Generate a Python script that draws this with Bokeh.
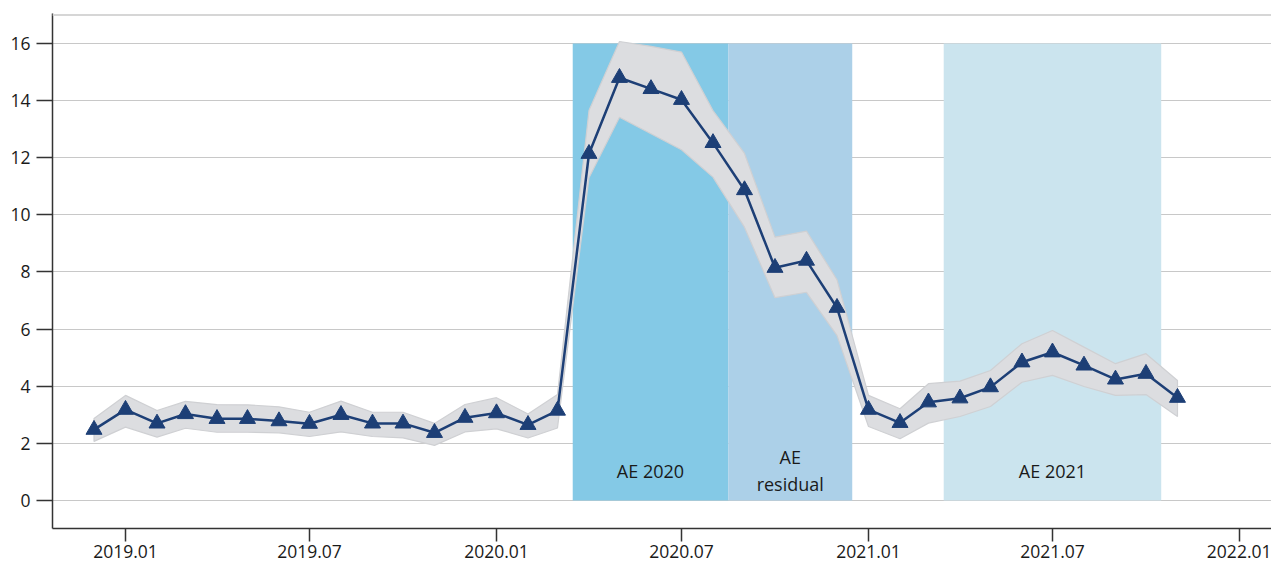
from datetime import datetime
from bokeh.plotting import figure
from bokeh.models import (Range1d, FixedTicker, DatetimeTickFormatter, Span,
                          ColumnDataSource)
from bokeh.core.properties import value
from bokeh.embed import file_html
from bokeh.resources import INLINE

# ---------------- data ----------------
months = ["2018-12",
          "2019-01", "2019-02", "2019-03", "2019-04", "2019-05", "2019-06",
          "2019-07", "2019-08", "2019-09", "2019-10", "2019-11", "2019-12",
          "2020-01", "2020-02", "2020-03", "2020-04", "2020-05", "2020-06",
          "2020-07", "2020-08", "2020-09", "2020-10", "2020-11", "2020-12",
          "2021-01", "2021-02", "2021-03", "2021-04", "2021-05", "2021-06",
          "2021-07", "2021-08", "2021-09", "2021-10", "2021-11"]

estimate = [2.48,
            3.18, 2.70, 3.03, 2.86, 2.86, 2.78,
            2.69, 3.00, 2.70, 2.70, 2.37, 2.90,
            3.06, 2.65, 3.15, 12.14, 14.80, 14.41,
            14.03, 12.52, 10.87, 8.15, 8.40, 6.75,
            3.18, 2.72, 3.44, 3.58, 3.97, 4.84,
            5.19, 4.73, 4.24, 4.44, 3.60]

upper = [2.87,
         3.68, 3.15, 3.47, 3.36, 3.35, 3.28,
         3.09, 3.48, 3.09, 3.09, 2.70, 3.36,
         3.60, 3.03, 3.71, 13.65, 16.07, 15.90,
         15.70, 13.65, 12.15, 9.22, 9.43, 7.73,
         3.68, 3.21, 4.09, 4.18, 4.55, 5.49,
         5.95, 5.37, 4.79, 5.14, 4.20]

lower = [2.07,
         2.57, 2.22, 2.53, 2.39, 2.39, 2.37,
         2.24, 2.40, 2.24, 2.19, 1.93, 2.40,
         2.51, 2.19, 2.54, 11.30, 13.42, 12.84,
         12.28, 11.32, 9.57, 7.10, 7.29, 5.78,
         2.59, 2.16, 2.71, 2.94, 3.29, 4.14,
         4.38, 3.99, 3.68, 3.71, 2.94]

region_labels = ["AE 2020", "AE\nresidual", "AE 2021"]
region_start = ["2020-03-16", "2020-08-16", "2021-03-16"]
region_end = ["2020-08-16", "2020-12-16", "2021-10-16"]
region_top = [16, 16, 16]
region_colors = ["#84c9e6", "#acd0e8", "#cbe4ee"]

x_tick_dates = ["2019-01-01", "2019-07-01", "2020-01-01", "2020-07-01",
                "2021-01-01", "2021-07-01", "2022-01-01"]
y_ticks = [0, 2, 4, 6, 8, 10, 12, 14, 16]

# ---------------- helpers ----------------
def to_dt(s):
    parts = [int(v) for v in s.split("-")]
    if len(parts) == 2:
        parts.append(1)
    return datetime(*parts)

x = [to_dt(m) for m in months]
rs = [to_dt(s) for s in region_start]
re_ = [to_dt(s) for s in region_end]
rmid = [a + (b - a) / 2 for a, b in zip(rs, re_)]

FONT = "Open Sans"
TXT = "#1a1a1a"

p = figure(width=1271, height=564, output_backend="svg", toolbar_location=None,
           x_axis_type="datetime",
           x_range=Range1d(datetime(2018, 10, 21, 4), datetime(2022, 2, 1, 12)),
           y_range=Range1d(-0.98, 17.05),
           min_border_left=52, min_border_right=0, min_border_top=13,
           min_border_bottom=36)
p.background_fill_color = "white"
p.border_fill_color = "white"
p.outline_line_color = None

# shaded regions
p.quad(left=rs, right=re_, bottom=[0, 0, 0], top=region_top,
       fill_color=region_colors, line_color=None)

# confidence band
band_x = x + x[::-1]
band_y = upper + lower[::-1]
p.patch(band_x, band_y, fill_color="#dcdde0", line_color="#cfd0d3", line_width=1.2)

# line + markers
src = ColumnDataSource(dict(x=x, y=estimate))
p.line("x", "y", source=src, line_color="#1d3f76", line_width=2.5)
p.scatter("x", "y", source=src, marker="triangle", size=16,
          fill_color="#1d3f76", line_color="#1d3f76")

# region labels
p.text(x=rmid, y=[1.05, 1.05, 1.05], text=region_labels,
       text_font=value(FONT), text_font_size="18px", text_color=TXT,
       text_align="center", text_baseline="middle", text_line_height=1.12)

# top border line
p.add_layout(Span(location=17.0, dimension="width", line_color="#d6d6d6",
                  line_width=2))

# grid
p.xgrid.grid_line_color = None
p.ygrid.grid_line_color = "#c8c8c8"
p.ygrid.grid_line_width = 1.2
p.ygrid.ticker = FixedTicker(ticks=y_ticks)

# y axis
p.yaxis.ticker = FixedTicker(ticks=y_ticks)
p.yaxis.axis_line_color = "#333333"
p.yaxis.axis_line_width = 1.5
p.yaxis.major_tick_line_color = "#333333"
p.yaxis.major_tick_line_width = 1.5
p.yaxis.major_tick_out = 16
p.yaxis.major_tick_in = 0
p.yaxis.minor_tick_line_color = None
p.yaxis.major_label_standoff = 6
p.yaxis.major_label_text_font = FONT
p.yaxis.major_label_text_font_size = "17.5px"
p.yaxis.major_label_text_color = TXT

# x axis
p.xaxis.ticker = FixedTicker(ticks=[to_dt(d).timestamp() * 1000 for d in x_tick_dates])
fmt = "%Y.%m"
p.xaxis.formatter = DatetimeTickFormatter(
    milliseconds=fmt, seconds=fmt, minsec=fmt, minutes=fmt, hourmin=fmt,
    hours=fmt, days=fmt, months=fmt, years=fmt)
p.xaxis.axis_line_color = "#333333"
p.xaxis.axis_line_width = 1.5
p.xaxis.major_tick_line_color = "#333333"
p.xaxis.major_tick_line_width = 1.5
p.xaxis.major_tick_out = 13
p.xaxis.major_tick_in = 0
p.xaxis.minor_tick_line_color = None
p.xaxis.major_label_standoff = 3
p.xaxis.major_label_text_font = FONT
p.xaxis.major_label_text_font_size = "17.5px"
p.xaxis.major_label_text_color = TXT

open("out.html", "w").write(file_html(p, INLINE))
